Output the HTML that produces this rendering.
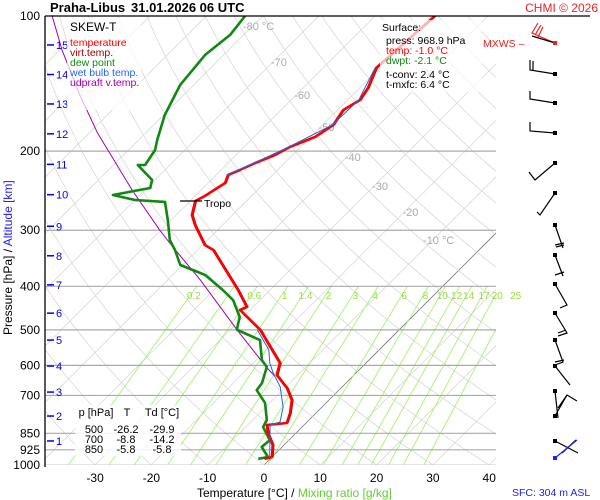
<!DOCTYPE html>
<html><head><meta charset="utf-8"><style>
html,body{margin:0;padding:0;background:#fff;}
svg{display:block;font-family:"Liberation Sans",sans-serif;}
</style></head><body>
<svg id="chart" width="600" height="500" viewBox="0 0 600 500">
<defs><clipPath id="plotclip"><rect x="45" y="16" width="451" height="449"/></clipPath></defs>
<rect width="600" height="500" fill="#fff"/>
<g id="grid" clip-path="url(#plotclip)"></g>
<g id="series" clip-path="url(#plotclip)"></g>
<g id="overlay"></g>
</svg>
<script>
const pressureLevels = [200, 300, 400, 500, 600, 700, 850, 925];
const pressureLabels = [100, 200, 300, 400, 500, 600, 700, 850, 925, 1000];
const tempTicks = [-30, -20, -10, 0, 10, 20, 30, 40];
const isothermLabels = [-80, -70, -60, -50, -40, -30, -20, -10];
const mixRatios = [0.2, 0.4, 0.6, 1, 1.4, 2, 3, 4, 6, 8, 10, 12, 14, 17, 20, 25];
const altitudeKm = [1,2,3,4,5,6,7,8,9,10,11,12,13,14,15];
const altitudePres = [884, 778, 688, 602, 527, 459, 397, 342, 294, 250, 214, 183, 157, 135, 116];

const tempP = [100,130.5,144.7,153.9,162,174.9,186,195.8,204,212.5,220.3,226,235.5,251.7,258.2,277.5,292,323.6,332,407.6,444.7,451.6,500,554.3,592.6,630.6,673.8,716.6,766.1,806.4,814.7,848.4,902.6,960,968.9];
const tempT = [-49.4,-50.6,-48.5,-47.8,-49.0,-48.1,-49.2,-51.9,-53.1,-55.2,-56.7,-57.9,-57.0,-58.3,-59.1,-57.2,-54.9,-49.6,-47.2,-35.7,-31.1,-31.8,-24.7,-19.0,-15.3,-13.7,-9.6,-6.6,-4.6,-3.4,-6.6,-5.0,-2.0,0.0,-1.0];

const dewP = [100,110.2,122.1,142.4,166.2,188.9,198.8,214.7,214.7,231.9,241.6,250.4,256.9,259.5,284.7,315.4,332,358.5,377.4,407.6,429,468.1,495.3,500,527,584,605,657,681,728,794,823,880,912,960,968.9];
const dewT = [-83.1,-82.4,-83.3,-82.4,-79.8,-76.7,-75.3,-74.4,-75.7,-70.5,-69.4,-74.8,-70.0,-64.3,-60.6,-56.7,-54.0,-50.4,-44.2,-38.4,-34.8,-30.6,-29.1,-28.8,-22.9,-19.0,-16.9,-14.9,-14.6,-10.8,-7.5,-6.9,-3.4,-3.6,-0.7,-2.1];

const wetP = [130.5,153.9,174.9,195.8,212.5,226,500,554,592.6,624,670,743,802,815,960];
const wetT = [-50.8,-48.0,-48.3,-52.1,-55.4,-58.1,-25.2,-19.6,-17.1,-14.7,-11.0,-6.9,-4.8,-6.0,-0.4];

const parcelP = [99.5,119,150,182,244,300,327,387,500,607.9,633.7];
const parcelT = [-117.6,-109.6,-98.4,-88.6,-72.3,-60.2,-54.9,-44.2,-28.8,-16.7,-13.9];

const NS='http://www.w3.org/2000/svg';
function yP(p){return 16+449*Math.log10(p/100);}
function xT(t,p){return 264+5.63*t+(465-yP(p));}
function mk(tag,attrs,parent){const e=document.createElementNS(NS,tag);for(const k in attrs)e.setAttribute(k,attrs[k]);parent.appendChild(e);return e;}
const grid=document.getElementById('grid'),series=document.getElementById('series'),ov=document.getElementById('overlay');

for(let t=-160;t<=50;t+=10){
  const l=mk('line',{x1:xT(t,1000),y1:yP(1000),x2:xT(t,100),y2:yP(100),stroke:t===0?'#777':'#d8d8d8','stroke-width':0.8},grid);
  
  
}
for(let th=-60;th<=260;th+=10){
  let d='';
  for(let p=1000;p>=100;p-=10){const t=(th+273.15)*Math.pow(p/1000,0.2857)-273.15;d+=(d?'L':'M')+xT(t,p).toFixed(1)+','+yP(p).toFixed(1);}
  const a=mk('path',{d:d,fill:'none',stroke:'#d8d8d8','stroke-width':0.8},grid);
  
  
}
function tdFromW(w,p){const e=w*p/(622+w);const l=Math.log(e/6.112);return 243.5*l/(17.67-l);}
mixRatios.forEach(w=>{
  const m=mk('line',{x1:xT(tdFromW(w,1000),1000),y1:yP(1000),x2:xT(tdFromW(w,400),400),y2:yP(400),stroke:'#a8f070','stroke-width':0.9},grid);
  
  
  if(w!==0.4){
    const tx=mk('text',{x:xT(tdFromW(w,400),400)-3,y:299,'font-size':10,fill:'#99dd44','text-anchor':'middle'},ov);
    tx.textContent=w;
    
    
  }
});
pressureLevels.forEach(p=>{
  const l=mk('line',{x1:45,y1:yP(p),x2:496,y2:yP(p),stroke:'#aaa','stroke-width':1.2},grid);
  
  
});
mk('line',{x1:45,y1:465,x2:496,y2:465,stroke:'#ccc','stroke-width':1},grid);
const isoY={"-80":30,"-70":66,"-60":99,"-50":131,"-40":161,"-30":190,"-20":216,"-10":244};
isothermLabels.forEach(t=>{
  const yy=isoY[t];
  const pp=100*Math.pow(10,(yy-4-16)/449);
  const tx=mk('text',{x:xT(t,pp)+6,y:yy,'font-size':11,fill:'#aaa','text-anchor':'middle'},grid);
  tx.textContent=(t===-80||t===-10)?t+' °C':t;
  
  
});

function path(P,T,color,w,name){
  let d='';P.forEach((p,i)=>{d+=(i?'L':'M')+xT(T[i],p).toFixed(1)+','+yP(p).toFixed(1);});
  const e=mk('path',{d:d,fill:'none',stroke:color,'stroke-width':w,'stroke-linejoin':'round'},series);
  
  
}
path(parcelP,parcelT,'#a000b0',1,'updraft-line');
path(dewP,dewT,'#118811',2.6,'dewpoint-line');
path(tempP,tempT.map(t=>t+0.25),'#990000',0.8,'virtual-temp-line');
path(tempP,tempT,'#ff0000',2.6,'temperature-line');
path(wetP.slice(0,6),wetT.slice(0,6),'#2266ee',1,'wetbulb-line-upper');
path(wetP.slice(6),wetT.slice(6),'#2266ee',1,'wetbulb-line-lower');

pressureLabels.forEach(p=>{
  const tx=mk('text',{x:40,y:yP(p)+4,'font-size':12,fill:'#000','text-anchor':'end'},ov);
  tx.textContent=p;
  
  
});
tempTicks.forEach(t=>{
  const tx=mk('text',{x:xT(t,1000),y:482,'font-size':12,fill:'#000','text-anchor':'middle'},ov);
  tx.textContent=t;
  
  
});
altitudeKm.forEach((k,i)=>{
  const y=yP(altitudePres[i]);
  mk('line',{x1:47,y1:y,x2:54,y2:y,stroke:'#0000ee','stroke-width':1.5},ov);
  const tx=mk('text',{x:56,y:y+4,'font-size':11,fill:'#0000ee'},ov);
  tx.textContent=k;
  
  
});
</script>
<svg width="600" height="500" viewBox="0 0 600 500" style="position:absolute;left:0;top:0">
<line x1="45" y1="16" x2="590" y2="16" stroke="#000" stroke-width="1.3"/>
<line x1="45" y1="16" x2="45" y2="467" stroke="#000" stroke-width="1.3"/>
<text x="50" y="12" font-size="13" font-weight="bold">Praha-Libus</text>
<text x="131" y="12" font-size="13" font-weight="bold">31.01.2026 06 UTC</text>
<text x="598" y="12" font-size="12" fill="#ee2222" text-anchor="end">CHMI © 2026</text>
<rect x="67" y="18" width="74" height="92" fill="#fff" fill-opacity="0.7"/>
<g font-size="10.5">
<text x="70" y="31" font-size="12" fill="#000">SKEW-T</text>
<text x="70" y="46" fill="#ff0000">temperature</text>
<text x="70" y="56" fill="#990000">virt.temp.</text>
<text x="70" y="66" fill="#118811">dew point</text>
<text x="70" y="76" fill="#2266ee">wet bulb temp.</text>
<text x="70" y="86" fill="#a000b0">udpraft v.temp.</text>
</g>
<rect x="380" y="20" width="102" height="72" fill="#fff" fill-opacity="0.7"/>
<g font-size="10.5">
<text x="382" y="31">Surface:</text>
<text x="386" y="44">press: 968.9 hPa</text>
<text x="386" y="54" fill="#ff0000">temp: -1.0 °C</text>
<text x="386" y="64" fill="#118811">dwpt: -2.1 °C</text>
<text x="386" y="78">t-conv: 2.4 °C</text>
<text x="386" y="88">t-mxfc: 6.4 °C</text>
</g>
<line x1="180" y1="201" x2="202" y2="201" stroke="#000" stroke-width="1.3"/>
<text x="204" y="207" font-size="10.5">Tropo</text>
<rect x="75" y="405" width="106" height="51" fill="#fff" fill-opacity="0.85"/>
<g font-size="11" text-anchor="middle">
<text x="96" y="416">p [hPa]</text><text x="127" y="416">T</text><text x="162" y="416">Td [°C]</text>
<text x="94" y="433">500</text><text x="126" y="433">-26.2</text><text x="162" y="433">-29.9</text>
<text x="94" y="443">700</text><text x="126" y="443">-8.8</text><text x="162" y="443">-14.2</text>
<text x="94" y="453">850</text><text x="126" y="453">-5.8</text><text x="162" y="453">-5.8</text>
</g>
<text transform="translate(12,335) rotate(-90)" font-size="12">Pressure [hPa] /<tspan fill="#2222ee"> Altitude [km]</tspan></text>
<text x="197" y="497" font-size="12">Temperature [°C]  /  <tspan fill="#66cc33">Mixing ratio [g/kg]</tspan></text>
<text x="512" y="496" font-size="10.5" fill="#2222ee">SFC: 304 m ASL</text>
<text x="483" y="47" font-size="10.5" fill="#ee2222">MXWS –</text>
<g stroke="#000" stroke-width="1.2" fill="none">
<path d="M555,43 L532,33 L538,23 M535,35 L541,25 M538,37 L543,27" stroke="#ee2222"/>
<path d="M555,43 L532,36"/>
<path d="M555,74 L530,70 L530,60 M533,70 L533,61"/>
<path d="M555,103 L530,99 L530,91"/>
<path d="M555,133 L530,131 L530,122"/>
<path d="M555,163 L535,180 L529,172"/>
<path d="M555,193 L540,215 L537,212"/>
<path d="M555,225 L563,248 M555,245 L564,243 M556,247 L564,245"/>
<path d="M555,255 L563,276 M555,275 L564,272"/>
<path d="M555,284 L567,305 L560,308"/>
<path d="M555,313 L567,333 L558,336 M558,333 L566,330"/>
<path d="M555,340 L563,362 L555,365 M555,362 L564,360"/>
<path d="M555,366 L570,385"/>
<path d="M555,391 L558,418 M558,408 L567,395 L577,401"/>
<path d="M555,416 L567,395"/>
<path d="M555,441 L578,453 M562,453 L576,440"/>
</g>
<g fill="#000">
<rect x="553" y="41" width="4" height="4" fill="#ee2222"/><rect x="553" y="72" width="4" height="4"/><rect x="553" y="101" width="4" height="4"/><rect x="553" y="131" width="4" height="4"/><rect x="553" y="161" width="4" height="4"/><rect x="553" y="191" width="4" height="4"/><rect x="553" y="223" width="4" height="4"/><rect x="553" y="253" width="4" height="4"/><rect x="553" y="282" width="4" height="4"/><rect x="553" y="311" width="4" height="4"/><rect x="553" y="338" width="4" height="4"/><rect x="553" y="364" width="4" height="4"/><rect x="553" y="389" width="4" height="4"/><rect x="553" y="414" width="4" height="4"/><rect x="553" y="439" width="4" height="4"/><rect x="553" y="456" width="4" height="4" fill="#2222ee"/>
</g>
<line x1="555" y1="458" x2="577" y2="440" stroke="#2222ee" stroke-width="1.2"/>
</svg>
</body></html>
